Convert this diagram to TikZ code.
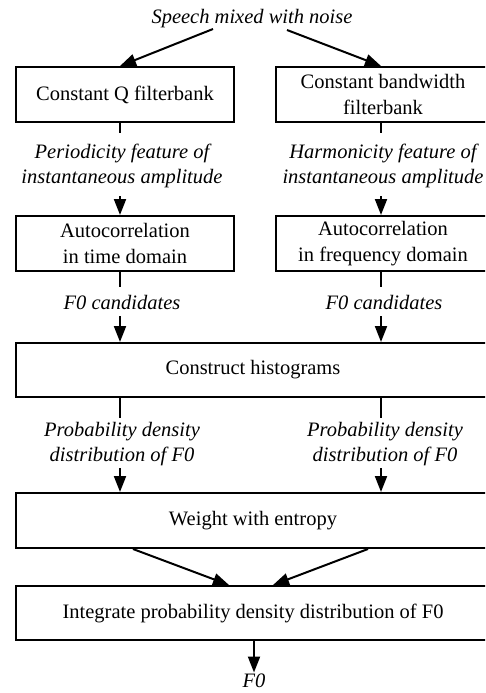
\documentclass[tikz,border=0pt]{standalone}
\usepackage{fontspec}
\setmainfont{Liberation Serif}
\usetikzlibrary{arrows.meta}
\begin{document}
\begin{tikzpicture}[x=1pt,y=-1pt,
  every node/.style={font=\fontsize{20.5}{25.5}\selectfont, inner sep=0pt},
  box/.style={draw, line width=2pt, align=center, minimum height=55pt},
  lbl/.style={align=center, font=\fontsize{20.5}{25.5}\selectfont\itshape},
  conn/.style={line width=2pt},
  arr/.style={conn, -{Triangle[length=16pt,width=12pt]}}]
\clip (0,0) rectangle (485,693);
% input
\node[lbl] (sp) at (252,19) {Speech mixed with noise};
% boxes
\node[box, minimum width=218pt] (cq) at (125,94.5) {Constant Q filterbank};
\node[box, minimum width=214pt] (cb) at (383,94.5) {Constant bandwidth\\filterbank};
\node[box, minimum width=218pt] (at) at (125,243.5) {Autocorrelation\\in time domain};
\node[box, minimum width=214pt] (af) at (383,243.5) {Autocorrelation\\in frequency domain};
\node[box, minimum width=474pt, minimum height=54pt] (ch) at (253,370) {Construct histograms};
\node[box, minimum width=474pt] (we) at (253,520.5) {Weight with entropy};
\node[box, minimum width=474pt, minimum height=54pt] (ip) at (253,613) {Integrate probability density distribution of F0};
% labels
\node[lbl] (pf) at (122,166) {Periodicity feature of\\instantaneous amplitude};
\node[lbl] (hf) at (383,166) {Harmonicity feature of\\instantaneous amplitude};
\node[lbl] (fc1) at (122,302) {F0 candidates};
\node[lbl] (fc2) at (384,302) {F0 candidates};
\node[lbl] (pd1) at (122,444) {Probability density\\distribution of F0};
\node[lbl] (pd2) at (385,444) {Probability density\\distribution of F0};
\node[lbl, anchor=north] (out) at (254,674) {F0};
% helper coordinates
\coordinate (xl) at (120,0);
\coordinate (xr) at (381,0);
\coordinate (s1) at (213,29);
\coordinate (s2) at (287,30);
\coordinate (w1) at (133,0);
\coordinate (w2) at (368,0);
\coordinate (t1) at (229,0);
\coordinate (t2) at (273,0);
% connectors
\draw[arr] (s1) -- (xl |- cq.north);
\draw[arr] (s2) -- (xr |- cb.north);
\draw[conn, shorten >=10.5pt] (xl |- cq.south) -- (xl |- pf.north);
\draw[conn, shorten >=10.5pt] (xr |- cb.south) -- (xr |- hf.north);
\draw[arr, shorten <=8pt] (xl |- pf.south) -- (xl |- at.north);
\draw[arr, shorten <=8pt] (xr |- hf.south) -- (xr |- af.north);
\draw[conn, shorten >=8pt] (xl |- at.south) -- (xl |- fc1.north);
\draw[conn, shorten >=8pt] (xr |- af.south) -- (xr |- fc2.north);
\draw[arr, shorten <=7pt] (xl |- fc1.south) -- (xl |- ch.north);
\draw[arr, shorten <=7pt] (xr |- fc2.south) -- (xr |- ch.north);
\draw[conn, shorten >=4pt] (xl |- ch.south) -- (xl |- pd1.north);
\draw[conn, shorten >=4pt] (xr |- ch.south) -- (xr |- pd2.north);
\draw[arr, shorten <=2pt] (xl |- pd1.south) -- (xl |- we.north);
\draw[arr, shorten <=2pt] (xr |- pd2.south) -- (xr |- we.north);
\draw[arr] (w1 |- we.south) -- (t1 |- ip.north);
\draw[arr] (w2 |- we.south) -- (t2 |- ip.north);
\draw[arr, shorten >=1.5pt] (ip.south -| out) -- (out.north);
\end{tikzpicture}
\end{document}
